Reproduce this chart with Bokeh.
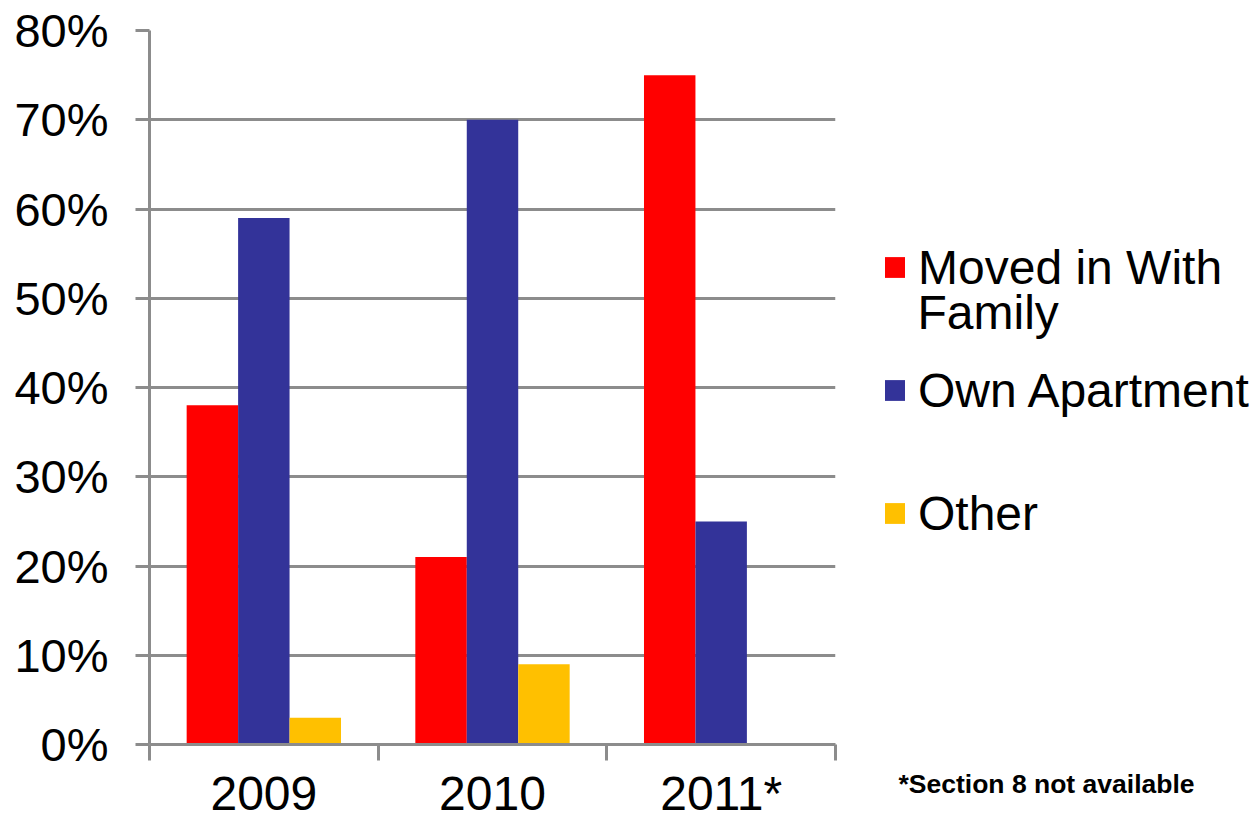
from bokeh.plotting import figure
from bokeh.models import (ColumnDataSource, Range1d, FixedTicker, PrintfTickFormatter,
                          Legend, LegendItem, Label)
from bokeh.layouts import row
from bokeh.transform import dodge
from bokeh.embed import file_html
from bokeh.resources import INLINE

years = ["2009", "2010", "2011*"]
moved_in_with_family = [38, 21, 75]
own_apartment = [59, 70, 25]
other = [3, 9, 0]
y_ticks = [0, 10, 20, 30, 40, 50, 60, 70, 80]
series_labels = ["Moved in With", "Own Apartment", "Other"]
label_second_line = "Family"
footnote = "*Section 8 not available"

RED = "#FF0000"
BLUE = "#333399"
YELLOW = "#FFC000"
GRAY = "#8C8C8C"
FONT = "Liberation Sans"
H = 824

xc = [i + 0.5 for i in range(len(years))]
src = ColumnDataSource(dict(x=xc, moved=moved_in_with_family, own=own_apartment, other=other))

p = figure(width=860, height=H, output_backend="svg", toolbar_location=None,
           x_range=Range1d(0, len(years)), y_range=Range1d(0, 80),
           min_border_left=149, min_border_right=25, min_border_top=30, min_border_bottom=80)
p.outline_line_color = None

bw = 0.225
r1 = p.vbar(x=dodge("x", -bw, range=p.x_range), top="moved", width=bw, source=src,
            fill_color=RED, line_color=None)
r2 = p.vbar(x=dodge("x", 0, range=p.x_range), top="own", width=bw, source=src,
            fill_color=BLUE, line_color=None)
r3 = p.vbar(x=dodge("x", bw, range=p.x_range), top="other", width=bw, source=src,
            fill_color=YELLOW, line_color=None)

p.xgrid.grid_line_color = None
p.ygrid.grid_line_color = GRAY
p.ygrid.grid_line_width = 3
p.ygrid.ticker = FixedTicker(ticks=y_ticks)

yax = p.yaxis[0]
yax.ticker = FixedTicker(ticks=y_ticks)
yax.formatter = PrintfTickFormatter(format="%d%%")
yax.axis_line_color = GRAY
yax.axis_line_width = 3
yax.major_tick_line_color = GRAY
yax.major_tick_line_width = 3
yax.major_tick_out = 14
yax.major_tick_in = 0
yax.minor_tick_line_color = None
yax.major_label_standoff = 27
yax.major_label_text_font = FONT
yax.major_label_text_font_size = "47px"
yax.major_label_text_color = "black"

xax = p.xaxis[0]
xax.ticker = FixedTicker(ticks=xc, minor_ticks=list(range(len(years) + 1)))
xax.major_label_overrides = {x: y for x, y in zip(xc, years)}
xax.axis_line_color = GRAY
xax.axis_line_width = 3
xax.major_tick_line_color = None
xax.major_tick_out = 0
xax.major_tick_in = 0
xax.minor_tick_line_color = GRAY
xax.minor_tick_line_width = 3
xax.minor_tick_out = 16
xax.minor_tick_in = 0
xax.major_label_standoff = 6
xax.major_label_text_font = FONT
xax.major_label_text_font_size = "48px"
xax.major_label_text_color = "black"

# legend panel
p2 = figure(width=398, height=H, output_backend="svg", toolbar_location=None,
            x_range=Range1d(0, 1), y_range=Range1d(0, 1), x_axis_type=None, y_axis_type=None,
            min_border_left=0, min_border_right=0, min_border_top=0, min_border_bottom=0)
p2.frame_align = False
p2.outline_line_color = None
p2.xgrid.grid_line_color = None
p2.ygrid.grid_line_color = None
# zero-height proxies, only used for legend swatches
d1 = p2.vbar(x=[0.5], top=[0], width=0.1, fill_color=RED, line_color=None)
d2 = p2.vbar(x=[0.5], top=[0], width=0.1, fill_color=BLUE, line_color=None)
d3 = p2.vbar(x=[0.5], top=[0], width=0.1, fill_color=YELLOW, line_color=None)

legend = Legend(items=[LegendItem(label=series_labels[0], renderers=[d1]),
                       LegendItem(label=series_labels[1], renderers=[d2]),
                       LegendItem(label=series_labels[2], renderers=[d3])],
                location=(22, 281), orientation="vertical",
                glyph_width=25, glyph_height=26, label_height=60, spacing=63,
                label_standoff=11, padding=0, margin=0,
                border_line_color=None, background_fill_alpha=0,
                label_text_font=FONT, label_text_font_size="48px", label_text_color="black")
p2.add_layout(legend, "center")

p2.add_layout(Label(x=57, y=512, x_units="screen", y_units="screen", text=label_second_line,
                    text_font=FONT, text_font_size="48px", text_color="black",
                    text_align="left", text_baseline="middle"))
p2.add_layout(Label(x=38, y=41, x_units="screen", y_units="screen", text=footnote,
                    text_font=FONT, text_font_style="bold",
                    text_font_size="26.5px", text_color="black",
                    text_align="left", text_baseline="middle"))

layout = row(p, p2, spacing=0)
open("out.html", "w").write(file_html(layout, INLINE))
